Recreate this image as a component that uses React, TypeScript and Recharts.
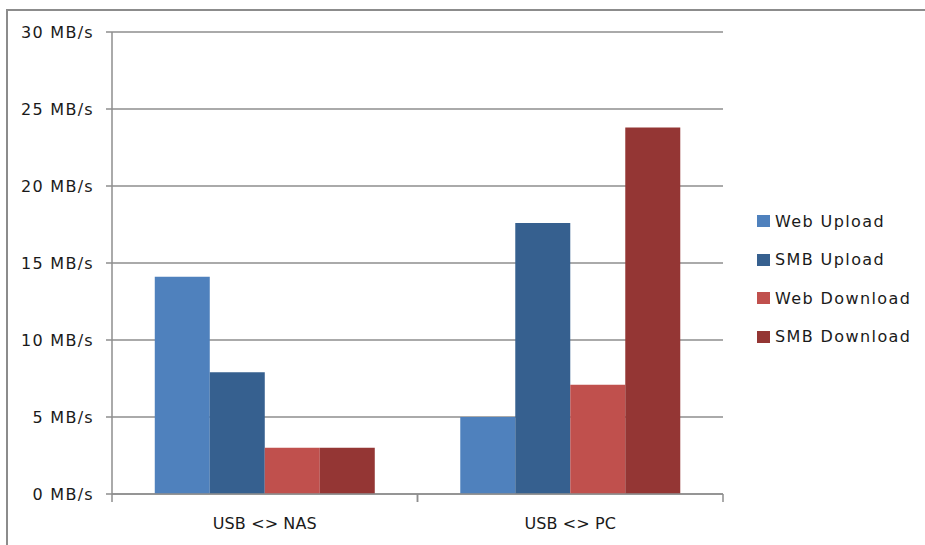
import React from 'react';
import { BarChart, Bar, XAxis, YAxis, CartesianGrid, Legend } from 'recharts';

const categories = ['USB <> NAS', 'USB <> PC'];
const webUpload = [14.1, 5.0];
const smbUpload = [7.9, 17.6];
const webDownload = [3.0, 7.1];
const smbDownload = [3.0, 23.8];
const yTicks = [0, 5, 10, 15, 20, 25, 30];
const seriesNames = ['Web Upload', 'SMB Upload', 'Web Download', 'SMB Download'];
const seriesColors = ['#4F81BD', '#36608F', '#C0504D', '#943634'];

const data = categories.map((c, i) => ({
  name: c,
  webUpload: webUpload[i],
  smbUpload: smbUpload[i],
  webDownload: webDownload[i],
  smbDownload: smbDownload[i],
}));
const keys = ['webUpload', 'smbUpload', 'webDownload', 'smbDownload'];

const FONT = '"DejaVu Sans", sans-serif';
const GRID = '#8e8e8e';
const TICK_MARGIN = 24;

const LegendContent = (props: any) => {
  const payload = [...(props.payload || [])].sort(
    (a: any, b: any) => seriesNames.indexOf(a.value) - seriesNames.indexOf(b.value)
  );
  return (
    <div style={{ fontFamily: FONT, fontSize: 16, letterSpacing: 1.4, color: '#1a1a1a' }}>
      {payload.map((p: any, i: number) => (
        <div key={i} style={{ display: 'flex', alignItems: 'center', height: 38.5 }}>
          <span style={{ display: 'inline-block', width: 13, height: 12, background: p.color, marginRight: 5 }} />
          <span>{p.value}</span>
        </div>
      ))}
    </div>
  );
};

const CategoryTick = (props: any) => {
  const { x, y, payload } = props;
  const half = payload && typeof payload.offset === 'number' && payload.offset > 0 ? payload.offset : 152.75;
  const axisY = y - TICK_MARGIN;
  return (
    <g>
      <line x1={x - half} x2={x - half} y1={axisY} y2={axisY + 8} stroke={GRID} strokeWidth={1.5} />
      <line x1={x + half} x2={x + half} y1={axisY} y2={axisY + 8} stroke={GRID} strokeWidth={1.5} />
      <text x={x} y={y} dy="0.71em" textAnchor="middle" fontFamily={FONT} fontSize={16} fill="#1a1a1a" letterSpacing={0.1}>
        {payload.value}
      </text>
    </g>
  );
};

export default function App() {
  return (
    <div style={{ position: 'absolute', left: 0, top: 0, width: 925, height: 545, background: '#fff', overflow: 'hidden' }}>
      <div style={{ position: 'absolute', left: 6, top: 9, width: 1000, height: 1000, borderLeft: '2px solid #8c8c8c', borderTop: '2px solid #8c8c8c' }} />
      <div style={{ position: 'absolute', left: 0, top: 0 }}>
        <BarChart
          width={925}
          height={545}
          data={data}
          margin={{ top: 32, right: 202, bottom: 21, left: 0 }}
          barCategoryGap="14%"
          barGap={0}
        >
          <CartesianGrid vertical={false} stroke={GRID} strokeWidth={1.5} />
          <XAxis
            dataKey="name"
            height={30}
            axisLine={{ stroke: GRID, strokeWidth: 1.5 }}
            tickLine={false}
            tickSize={0}
            tickMargin={TICK_MARGIN}
            tick={<CategoryTick />}
          />
          <YAxis
            width={112}
            domain={[0, 30]}
            ticks={yTicks}
            tickFormatter={(v: number) => `${v} MB/s`}
            tickSize={6}
            tickMargin={12}
            axisLine={{ stroke: GRID, strokeWidth: 1.5 }}
            tickLine={{ stroke: GRID, strokeWidth: 1.5 }}
            tick={{ fontFamily: FONT, fontSize: 16, fill: '#1a1a1a', letterSpacing: 1.3 }}
          />
          <Legend
            layout="vertical"
            align="center"
            verticalAlign="middle"
            content={LegendContent}
            wrapperStyle={{ position: 'absolute', left: 757, top: 202, width: 170 }}
          />
          {keys.map((k, i) => (
            <Bar key={k} dataKey={k} name={seriesNames[i]} fill={seriesColors[i]} isAnimationActive={false} />
          ))}
        </BarChart>
      </div>
    </div>
  );
}
